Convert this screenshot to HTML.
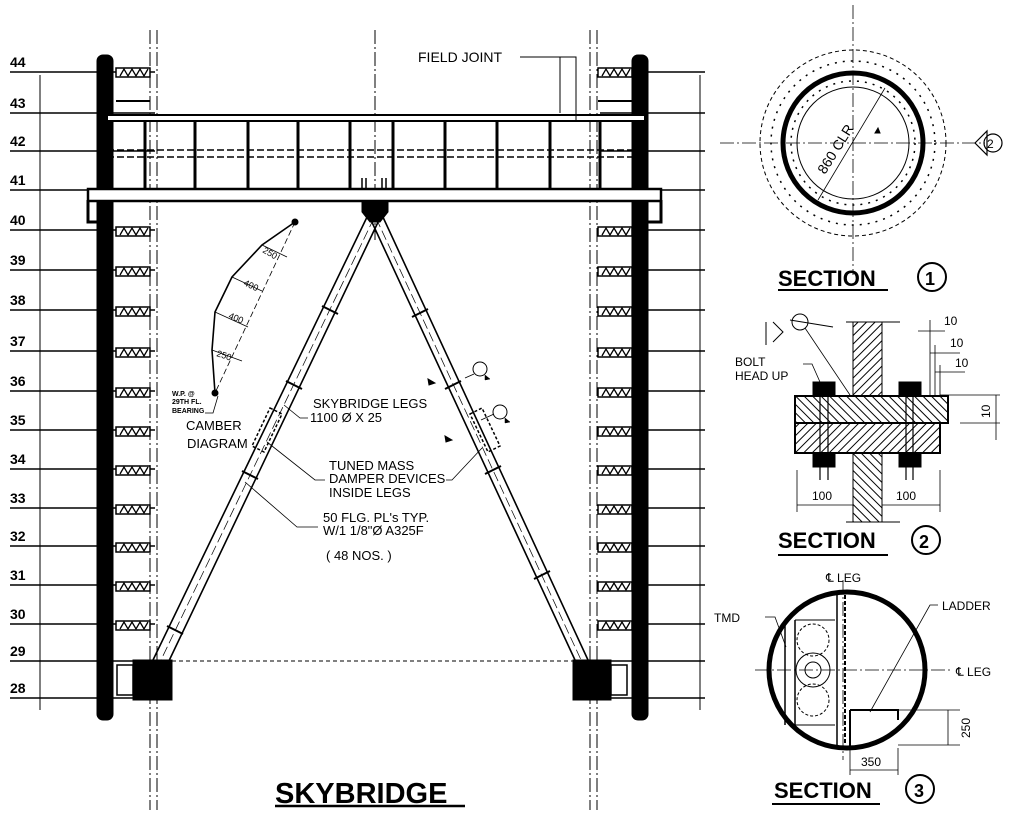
<!DOCTYPE html>
<html><head><style>
html,body{margin:0;padding:0;background:#fff;}
svg{display:block;font-family:"Liberation Sans",sans-serif;}
</style></head><body>
<svg width="1024" height="816" viewBox="0 0 1024 816" xmlns="http://www.w3.org/2000/svg">
<defs>
<pattern id="h1" width="6" height="6" patternUnits="userSpaceOnUse" patternTransform="rotate(45)"><rect width="6" height="6" fill="#fff"/><line x1="0" y1="0" x2="0" y2="6" stroke="#000" stroke-width="2"/></pattern>
<pattern id="h2" width="6" height="6" patternUnits="userSpaceOnUse" patternTransform="rotate(-45)"><rect width="6" height="6" fill="#fff"/><line x1="0" y1="0" x2="0" y2="6" stroke="#000" stroke-width="2"/></pattern>
<g id="hb"><rect x="0" y="0" width="34" height="9" fill="#fff" stroke="#000" stroke-width="1.5"/><path d="M4 8L8 1L12 8L16 1L20 8L24 1L28 8L32 1" stroke="#000" fill="none" stroke-width="1.3"/></g>
</defs>
<g stroke="#000" fill="none">
<g stroke-width="1.5">
<path d="M10 72H155M10 113H155M10 151H155M10 190H155M10 230H155M10 270H155M10 310H155M10 351H155M10 391H155M10 430H155M10 469H155M10 508H155M10 546H155M10 585H155M10 624H155M10 661H155M10 698H155"/>
<path d="M600 72H705M600 113H705M600 151H705M600 190H705M600 230H705M600 270H705M600 310H705M600 351H705M600 391H705M600 430H705M600 469H705M600 508H705M600 546H705M600 585H705M600 624H705M600 661H705M600 698H705"/>
</g>
<path d="M40 75V710M700 75V710" stroke-width="1"/>
<path d="M150 30V810M157 30V810M590 30V810M597 30V810M375 30V240" stroke-width="1" stroke-dasharray="14 3 2 3"/>
<rect x="97" y="55" width="16" height="665" fill="#000" rx="6"/>
<rect x="632" y="55" width="16" height="665" fill="#000" rx="6"/>
<g>
<use href="#hb" x="116" y="68"/><use href="#hb" x="116" y="227"/><use href="#hb" x="116" y="267"/><use href="#hb" x="116" y="307"/><use href="#hb" x="116" y="348"/><use href="#hb" x="116" y="388"/><use href="#hb" x="116" y="427"/><use href="#hb" x="116" y="466"/><use href="#hb" x="116" y="505"/><use href="#hb" x="116" y="543"/><use href="#hb" x="116" y="582"/><use href="#hb" x="116" y="621"/>
<use href="#hb" x="598" y="68"/><use href="#hb" x="598" y="227"/><use href="#hb" x="598" y="267"/><use href="#hb" x="598" y="307"/><use href="#hb" x="598" y="348"/><use href="#hb" x="598" y="388"/><use href="#hb" x="598" y="427"/><use href="#hb" x="598" y="466"/><use href="#hb" x="598" y="505"/><use href="#hb" x="598" y="543"/><use href="#hb" x="598" y="582"/><use href="#hb" x="598" y="621"/>
</g>
<path d="M116 101H150M598 101H632" stroke-width="2"/>
<rect x="107" y="115" width="538" height="6" stroke-width="2" fill="#fff"/>
<path d="M107 150H645M107 157H645" stroke-width="1.5" stroke-dasharray="7 3"/>
<rect x="88" y="189" width="573" height="12" stroke-width="2.5" fill="#fff"/>
<g stroke-width="3"><path d="M145 121V189M195 121V189M248 121V189M298 121V189M350 121V189M393 121V189M445 121V189M497 121V189M550 121V189M600 121V189"/></g>
<path d="M110 121V189M640 121V189" stroke-width="2" stroke-dasharray="4 2"/>
<path d="M88 200V222H100M661 200V222H648" stroke-width="3"/>
<path d="M103 210V235M642 210V235" stroke-width="5"/>
<path d="M362 178V189M366 178V189M382 178V189M386 178V189" stroke-width="1.5"/>
<path d="M520 57H576V120M576 57" stroke-width="1"/>
<path d="M560 57V113" stroke-width="1"/>
<path d="M362 201H388V212L380 222H370L362 212Z" fill="#000"/>
<g stroke-width="1.6">
<path d="M368 215L153 660M380 218L167 665"/>
<path d="M370 218L575 660M382 215L588 660"/>
</g>
<path d="M374 218L160 662M376 218L582 662" stroke-width="0.7" stroke-dasharray="10 4"/>
<!-- bottom blocks -->
<rect x="133" y="660" width="39" height="40" fill="#000"/>
<rect x="573" y="660" width="38" height="40" fill="#000"/>
<path d="M172 661H573" stroke-width="1" stroke-dasharray="4 3"/>
<rect x="117" y="665" width="16" height="30" stroke-width="1.5"/>
<rect x="611" y="665" width="16" height="30" stroke-width="1.5"/>
<!-- leg ticks -->
<g stroke-width="2"><path d="M322 306l16 8M286 381l16 8M242 471l16 8M167 626l16 8M412 317l16 -8M445 389l16 -8M485 474l16 -8M534 579l16 -8"/></g>
<path d="M270 408L282 414L264 452L252 446Z" stroke-width="1.5" stroke-dasharray="3 2"/>
<path d="M470 414L482 408L500 446L488 452Z" stroke-width="1.5" stroke-dasharray="3 2"/>
<path d="M435 383l-7 -4l1 6zM452 440l-7 -4l1 6z" fill="#000" stroke-width="1"/>
<!-- camber diagram -->
<path d="M295 222L262 245L232 277L215 312L212 350L215 393" stroke-width="1.6"/>
<path d="M295 222L215 393" stroke-width="0.8" stroke-dasharray="6 3"/>
<path d="M262 245l25 12M232 277l30 14M215 312l33 15M212 350l30 11" stroke-width="0.8"/>
<circle cx="295" cy="222" r="3" fill="#000"/><circle cx="215" cy="393" r="3" fill="#000"/>
<path d="M205 413H213L218 396" stroke-width="0.8"/>
<path d="M284 405L300 418H308" stroke-width="0.8"/>
<path d="M267 442L315 480H325" stroke-width="0.8"/>
<path d="M446 480H452L482 448" stroke-width="0.8"/>
<path d="M245 482L297 527H318" stroke-width="0.8"/>
<path d="M465 378L474 374M481 420L494 414" stroke-width="0.8"/>
<circle cx="480" cy="369" r="7" stroke-width="1"/><circle cx="500" cy="412" r="7" stroke-width="1"/>
<path d="M485 375l5 4l-5 1zM505 418l5 4l-5 1z" fill="#000" stroke-width="0.5"/>
<!-- section 1 -->
<path d="M853 5V275M720 143H985" stroke-width="0.8" stroke-dasharray="14 3 2 3"/>
<circle cx="853" cy="143" r="93" stroke-width="1" stroke-dasharray="4 3"/>
<circle cx="853" cy="143" r="70" stroke-width="5"/>
<circle cx="853" cy="143" r="56" stroke-width="1"/>
<circle cx="853" cy="143" r="82" stroke-width="1.5" stroke-dasharray="2 6"/>
<circle cx="853" cy="143" r="62" stroke-width="1.5" stroke-dasharray="2 6"/>
<path d="M818 200L885 88" stroke-width="0.8"/>
<path d="M880 133l-5 0l3 -5z" fill="#000"/>
<path d="M975 143l12 -12v24z" stroke-width="1.2"/>
<circle cx="993" cy="143" r="9" stroke-width="1.2"/>
<circle cx="932" cy="277" r="14" stroke-width="2"/>
<path d="M778 290H888" stroke-width="2"/>
<!-- section 2 -->
<rect x="853" y="322" width="29" height="76" fill="url(#h1)" stroke-width="1"/>
<rect x="853" y="452" width="29" height="70" fill="url(#h2)" stroke-width="1"/>
<rect x="795" y="396" width="153" height="27" fill="url(#h2)" stroke-width="2"/>
<rect x="795" y="423" width="145" height="30" fill="url(#h1)" stroke-width="2"/>
<rect x="813" y="382" width="22" height="14" fill="#000"/><rect x="899" y="382" width="22" height="14" fill="#000"/>
<rect x="813" y="453" width="22" height="14" fill="#000"/><rect x="899" y="453" width="22" height="14" fill="#000"/>
<path d="M820 396V480M828 396V480M906 396V480M913 396V480" stroke-width="1.2"/>
<path d="M790 320L833 327M773 322l10 10l-10 10M766 322V345" stroke-width="1"/>
<circle cx="800" cy="322" r="8" stroke-width="1"/>
<path d="M805 328L850 395" stroke-width="0.8"/>
<path d="M803 364H812L820 382" stroke-width="0.8"/>
<path d="M797 470V512M940 470V512M797 505H853M882 505H940" stroke-width="0.8"/>
<path d="M930 320V396M935 345V396M940 365V396M918 331H945M930 353H960M935 372H965M940 395H1000M960 423H1000M996 395V440" stroke-width="0.8"/>
<path d="M846 322H900M846 522H900" stroke-width="1"/>
<circle cx="926" cy="540" r="14" stroke-width="2"/>
<path d="M778 555H888" stroke-width="2"/>
<!-- section 3 -->
<circle cx="847" cy="670" r="78" stroke-width="5"/>
<path d="M843 580V760M755 670H950" stroke-width="0.8" stroke-dasharray="14 3 2 3"/>
<path d="M785 625V725M795 620V730M837 595V748" stroke-width="1.5"/>
<path d="M795 620H835M795 725H835" stroke-width="1"/>
<circle cx="813" cy="670" r="17" stroke-width="1"/><circle cx="813" cy="670" r="8" stroke-width="1"/>
<circle cx="813" cy="640" r="16" stroke-width="1" stroke-dasharray="3 2"/><circle cx="813" cy="700" r="16" stroke-width="1" stroke-dasharray="3 2"/>
<path d="M845 595V745" stroke-width="2" stroke-dasharray="4 2"/>
<path d="M850 710V748M850 710H898V720" stroke-width="2"/>
<path d="M765 617H775L786 647" stroke-width="0.8"/>
<path d="M938 605H930L870 712" stroke-width="0.8"/>
<path d="M898 710H960M898 745H960M948 710V745M850 748V775M898 748V775M850 770H898" stroke-width="0.8"/>
<circle cx="920" cy="789" r="14" stroke-width="2"/>
<path d="M772 804H880" stroke-width="2"/>
<path d="M275 806H465" stroke-width="2.5"/>
</g>
<g fill="#000" font-size="14">
<g font-weight="bold">
<text x="10" y="67">44</text><text x="10" y="108">43</text><text x="10" y="146">42</text><text x="10" y="185">41</text><text x="10" y="225">40</text><text x="10" y="265">39</text><text x="10" y="305">38</text><text x="10" y="346">37</text><text x="10" y="386">36</text><text x="10" y="425">35</text><text x="10" y="464">34</text><text x="10" y="503">33</text><text x="10" y="541">32</text><text x="10" y="580">31</text><text x="10" y="619">30</text><text x="10" y="656">29</text><text x="10" y="693">28</text>
</g>
<text x="418" y="62" font-size="14">FIELD JOINT</text>
<text x="313" y="408" font-size="13">SKYBRIDGE LEGS</text>
<text x="310" y="422" font-size="13">1100 Ø X 25</text>
<text x="329" y="470" font-size="13">TUNED MASS</text>
<text x="329" y="483" font-size="13">DAMPER DEVICES</text>
<text x="329" y="497" font-size="13">INSIDE LEGS</text>
<text x="323" y="522" font-size="13">50 FLG. PL's TYP.</text>
<text x="323" y="535" font-size="13">W/1 1/8"Ø A325F</text>
<text x="326" y="560" font-size="13">( 48 NOS. )</text>
<text x="186" y="430" font-size="13">CAMBER</text>
<text x="187" y="448" font-size="13">DIAGRAM</text>
<text x="172" y="396" font-size="7" font-weight="bold">W.P. @</text>
<text x="172" y="404" font-size="7" font-weight="bold">29TH FL.</text>
<text x="172" y="413" font-size="7" font-weight="bold">BEARING</text>
<text x="262" y="252" font-size="9" transform="rotate(30 262 252)">250</text>
<text x="243" y="285" font-size="9" transform="rotate(25 243 285)">400</text>
<text x="228" y="318" font-size="9" transform="rotate(22 228 318)">400</text>
<text x="216" y="356" font-size="9" transform="rotate(18 216 356)">250</text>
<text x="825" y="175" font-size="14" transform="rotate(-58 825 175)">860 CLR</text>
<text x="778" y="286" font-size="22" font-weight="bold">SECTION</text>
<text x="925" y="285" font-size="18" font-weight="bold">1</text>
<text x="987" y="148" font-size="12">2</text>
<text x="735" y="366" font-size="12">BOLT</text>
<text x="735" y="380" font-size="12">HEAD UP</text>
<text x="944" y="325" font-size="12">10</text>
<text x="950" y="347" font-size="12">10</text>
<text x="955" y="367" font-size="12">10</text>
<text x="990" y="418" font-size="12" transform="rotate(-90 990 418)">10</text>
<text x="812" y="500" font-size="12">100</text>
<text x="896" y="500" font-size="12">100</text>
<text x="778" y="548" font-size="22" font-weight="bold">SECTION</text>
<text x="919" y="548" font-size="18" font-weight="bold">2</text>
<text x="826" y="582" font-size="12">℄ LEG</text>
<text x="714" y="622" font-size="12">TMD</text>
<text x="942" y="610" font-size="12">LADDER</text>
<text x="956" y="676" font-size="12">℄ LEG</text>
<text x="970" y="738" font-size="12" transform="rotate(-90 970 738)">250</text>
<text x="861" y="766" font-size="12">350</text>
<text x="774" y="798" font-size="22" font-weight="bold">SECTION</text>
<text x="914" y="797" font-size="18" font-weight="bold">3</text>
<text x="275" y="803" font-size="29" font-weight="bold">SKYBRIDGE</text>
</g>
</svg>
</body></html>
